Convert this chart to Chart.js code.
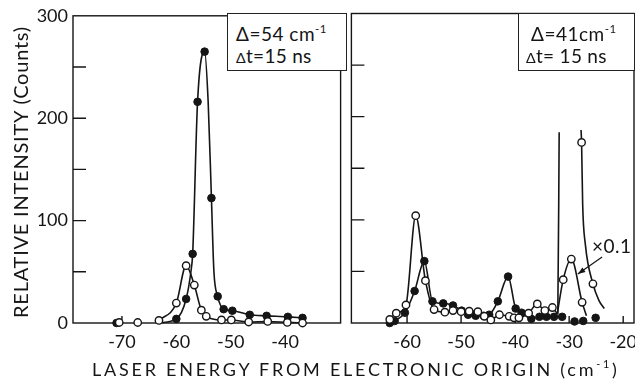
<!DOCTYPE html>
<html>
<head>
<meta charset="utf-8">
<script src="https://cdn.jsdelivr.net/npm/chart.js@4.4.1/dist/chart.umd.min.js"></script>
<style>
  html, body { margin: 0; padding: 0; background: #fff; overflow: hidden; }
  body { width: 635px; height: 381px; position: relative; color: #151515;
         font-family: Lato, 'DejaVu Sans', sans-serif; font-weight: 400; }
  canvas { position: absolute; top: 0; }
  #left { left: 0; }
  #right { left: 346px; }
  .t { position: absolute; white-space: nowrap; line-height: 1; }
  .box { position: absolute; border: 1.3px solid #222; background: #fff; box-sizing: border-box; }
  .ytitle { font-size: 20px; transform-origin: 0 0; transform: rotate(-90deg); }
  sup { font-size: 0.6em; vertical-align: 0.7em; line-height: 0; }
  .small { font-size: 0.75em; }
</style>
</head>
<body>
<canvas id="left" width="346" height="381"></canvas>
<canvas id="right" width="300" height="381"></canvas>

<div class="box" style="left:227px; top:13px; width:120px; height:58px;"></div>
<div class="t" style="left:236px; top:24px; font-size:19px; letter-spacing:0.5px;">&Delta;=54 cm<sup>-1</sup></div>
<div class="t" style="left:236px; top:46px; font-size:19px; letter-spacing:0.3px;"><span class="small">&Delta;</span>t=15 ns</div>

<div class="box" style="left:518px; top:13px; width:117px; height:58px;"></div>
<div class="t" style="left:531px; top:24px; font-size:19px; letter-spacing:0.5px;">&Delta;=41cm<sup>-1</sup></div>
<div class="t" style="left:526px; top:46px; font-size:19px; letter-spacing:0.3px;"><span class="small">&Delta;</span>t= 15 ns</div>

<div class="t" style="left:592px; top:236px; font-size:19px; letter-spacing:0.5px;">&times;0.1</div>

<div id="ytitle" class="t ytitle" style="left:10px; top:318px;">RELATIVE INTENSITY (Counts)</div>
<div id="xtitle" class="t" style="left:92px; top:360px; font-size:18px;">LASER ENERGY FROM ELECTRONIC ORIGIN (cm<sup>-1</sup>)</div>

<script>
// ----- data -----
const yLabelTicks = [0, 100, 200, 300];
const yMinorTicks = [50, 100, 150, 200, 250];
const leftXTicks  = [-70, -60, -50, -40];
const rightXTicks = [-60, -50, -40, -30, -20];

// left panel (Δ = 54 cm-1)
const leftFilledX = [-71.0, -60.0, -58.2, -57.0, -56.1, -54.8, -53.55, -52.4, -51.3, -49.7, -46.5, -43.4, -39.5, -36.8];
const leftFilledY = [0, 4, 23.5, 67.5, 216, 265, 122, 26, 13.5, 12, 8, 7, 6, 5];
const leftOpenX   = [-70.5, -67.1, -63.2, -60.0, -58.2, -56.7, -55.4, -54.5, -51.7, -49.9, -46.7, -43.2, -39.6, -36.8];
const leftOpenY   = [0.5, 0.5, 2.5, 19.5, 56, 37, 12.5, 6.5, 3, 3, 1, 1.5, 0.6, 0];
// fitted curves
const leftFilledFitX = [-63.2, -60.0, -58.2, -57.3, -57.0, -56.1, -54.8, -54.15, -53.55, -53.1, -52.4, -51.3, -49.7, -46.5, -43.4, -39.5, -36.8];
const leftFilledFitY = [0, 4, 23.5, 51, 67.5, 216, 265, 216, 122, 51, 26, 13.5, 12, 8, 7, 6, 5];
const leftOpenFitX   = [-63.2, -60.0, -58.2, -56.7, -55.4, -54.5, -51.7, -49.9, -46.7, -43.2, -39.6, -36.8];
const leftOpenFitY   = [2.5, 19.5, 56, 37, 12.5, 6.5, 3, 3, 1, 1.5, 0.6, 0];

// right panel (Δ = 41 cm-1)
const rightFilledX = [-63.2, -62.3, -60.4, -58.6, -56.8, -55.3, -53.3, -51.5, -49.9, -48.7, -47.3, -45.8, -44.8, -43.2, -41.3, -39.9, -38.8, -37.0, -35.5, -34.2, -32.8, -31.3, -29.0, -27.4, -25.1];
const rightFilledY = [0, 2, 10, 31, 60, 21, 19, 17, 12, 8, 7, 7, 8, 21, 45, 14, 10, 4, 6, 6, 6, 6, 1.5, 2, 5];
const rightOpenX   = [-63.2, -62.0, -60.2, -58.4, -56.6, -55.0, -53.0, -51.5, -50.0, -48.5, -46.9, -45.7, -44.5, -42.9, -41.1, -40.2, -39.3, -37.5, -35.9, -34.5, -33.1, -31.1, -29.6, -27.7, -27.6, -25.6];
const rightOpenY   = [3.5, 9.5, 17.5, 104, 41, 13, 10.5, 12, 11, 11.5, 11, 6.5, 3, 8, 6.5, 5, 5, 9.5, 18.5, 12, 15, 42, 62, 175, 20, 38];
// fitted curves
const rightFilledFitX = [-63.2, -62.3, -60.4, -58.6, -56.8, -55.3, -53.3, -51.5, -49.9, -48.7, -47.3, -45.8, -44.8, -43.2, -41.3, -39.9, -38.8, -37.0, -35.5, -34.2, -32.8, -31.3];
const rightFilledFitY = [0, 2, 10, 31, 60, 21, 19, 17, 12, 8, 7, 7, 8, 21, 45, 14, 10, 4, 6, 6, 6, 6];
const rightOpenFitX   = [-63.2, -62.0, -60.2, -58.4, -56.6, -55.0, -53.0, -51.5, -50.0, -48.5, -46.9, -45.7, -44.5, -42.9, -41.1, -40.2, -39.3, -37.5, -35.9, -34.5, -33.1, -32.1, -31.85];
const rightOpenFitY   = [3.5, 9.5, 17.5, 104, 41, 13, 10.5, 12, 11, 11.5, 11, 6.5, 3, 8, 6.5, 5, 5, 9.5, 18.5, 12, 15, 9, 185];
const rightScaledFitX = [-32.2, -31.1, -29.6, -27.6, -26.8];   // x 0.1 curve
const rightScaledFitY = [9, 42, 62, 20, 7];
const rightFullFitX   = [-27.8, -27.7, -27.5, -27.0, -25.6, -24.5, -23.5];
const rightFullFitY   = [187, 175, 115, 76, 38, 22, 14];

// arrow for the "x0.1" label, in data units
const arrowFrom = [-23.9, 64];
const arrowTo   = [-28.4, 47.5];

// ----- helpers -----
const INK = '#151515';
const FONT = { family: "Lato, 'DejaVu Sans', sans-serif", size: 18 };
const pts = (xs, ys) => xs.map((x, i) => ({ x, y: ys[i] }));

const curve = (xs, ys) => ({
  data: pts(xs, ys), showLine: true, borderColor: INK, borderWidth: 1.6,
  pointRadius: 0, cubicInterpolationMode: 'monotone', clip: false, order: 3
});
const filled = (xs, ys) => ({
  data: pts(xs, ys), pointRadius: 3.8, pointBackgroundColor: INK,
  pointBorderColor: INK, pointBorderWidth: 1, clip: false, order: 2
});
const open = (xs, ys) => ({
  data: pts(xs, ys), pointRadius: 3.7, pointBackgroundColor: '#fff',
  pointBorderColor: INK, pointBorderWidth: 1.4, clip: false, order: 1
});

// frame with inward ticks
const framePlugin = {
  id: 'frame',
  beforeDatasetsDraw(chart, args, o) {
    const { ctx, chartArea: a, scales: { x, y } } = chart;
    ctx.save();
    ctx.strokeStyle = INK;
    ctx.lineWidth = 1.4;
    ctx.strokeRect(a.left, a.top, a.right - a.left, a.bottom - a.top);
    ctx.beginPath();
    o.xTicks.forEach(v => {
      const px = x.getPixelForValue(v);
      ctx.moveTo(px, a.bottom); ctx.lineTo(px, a.bottom - 7);
    });
    yMinorTicks.forEach(v => {
      const py = y.getPixelForValue(v);
      ctx.moveTo(a.left, py); ctx.lineTo(a.left + 13, py);
    });
    ctx.stroke();
    ctx.restore();
  }
};

const arrowPlugin = {
  id: 'arrow',
  afterDatasetsDraw(chart) {
    const { ctx, scales: { x, y } } = chart;
    const x0 = x.getPixelForValue(arrowFrom[0]), y0 = y.getPixelForValue(arrowFrom[1]);
    const x1 = x.getPixelForValue(arrowTo[0]),   y1 = y.getPixelForValue(arrowTo[1]);
    const ang = Math.atan2(y1 - y0, x1 - x0);
    ctx.save();
    ctx.strokeStyle = INK; ctx.fillStyle = INK; ctx.lineWidth = 1.2;
    ctx.beginPath(); ctx.moveTo(x0, y0); ctx.lineTo(x1, y1); ctx.stroke();
    ctx.beginPath();
    ctx.moveTo(x1, y1);
    ctx.lineTo(x1 - 8 * Math.cos(ang - 0.35), y1 - 8 * Math.sin(ang - 0.35));
    ctx.lineTo(x1 - 8 * Math.cos(ang + 0.35), y1 - 8 * Math.sin(ang + 0.35));
    ctx.closePath(); ctx.fill();
    ctx.restore();
  }
};

function panel(id, datasets, xMin, xMax, xTicks, showY, padRight, extra) {
  return new Chart(document.getElementById(id), {
    type: 'scatter',
    data: { datasets },
    options: {
      responsive: false, animation: false, events: [],
      layout: { padding: { top: 13.5, right: padRight, left: 0, bottom: 0 } },
      plugins: { legend: { display: false }, tooltip: { enabled: false }, frame: { xTicks } },
      scales: {
        x: {
          type: 'linear', min: xMin, max: xMax,
          afterBuildTicks: s => { s.ticks = xTicks.map(v => ({ value: v })); },
          afterFit: s => { s.height = 58; },
          grid: { display: false, drawTicks: false }, border: { display: false },
          ticks: { color: INK, font: FONT, padding: 8, maxRotation: 0 }
        },
        y: {
          type: 'linear', min: 0, max: 300, display: showY,
          afterBuildTicks: s => { s.ticks = yLabelTicks.map(v => ({ value: v })); },
          afterFit: s => { if (showY) s.width = 73; },
          grid: { display: false, drawTicks: false }, border: { display: false },
          ticks: { color: INK, font: FONT, padding: 5 }
        }
      }
    },
    plugins: [framePlugin].concat(extra || [])
  });
}

panel('left', [
  curve(leftFilledFitX, leftFilledFitY),
  curve(leftOpenFitX, leftOpenFitY),
  filled(leftFilledX, leftFilledY),
  open(leftOpenX, leftOpenY)
], -79, -29.8, leftXTicks, true, 0);

panel('right', [
  curve(rightFilledFitX, rightFilledFitY),
  curve(rightOpenFitX, rightOpenFitY),
  curve(rightScaledFitX, rightScaledFitY),
  curve(rightFullFitX, rightFullFitY),
  filled(rightFilledX, rightFilledY),
  open(rightOpenX, rightOpenY)
], -70.3, -18, rightXTicks, false, 12, [arrowPlugin]);

// stretch the axis titles to the width they take in the figure
function fitText(el, target) {
  el.style.letterSpacing = '0px';
  const n = el.textContent.length;
  el.style.letterSpacing = ((target - el.offsetWidth) / n) + 'px';
}
fitText(document.getElementById('xtitle'), 528);
fitText(document.getElementById('ytitle'), 292);
</script>
</body>
</html>
